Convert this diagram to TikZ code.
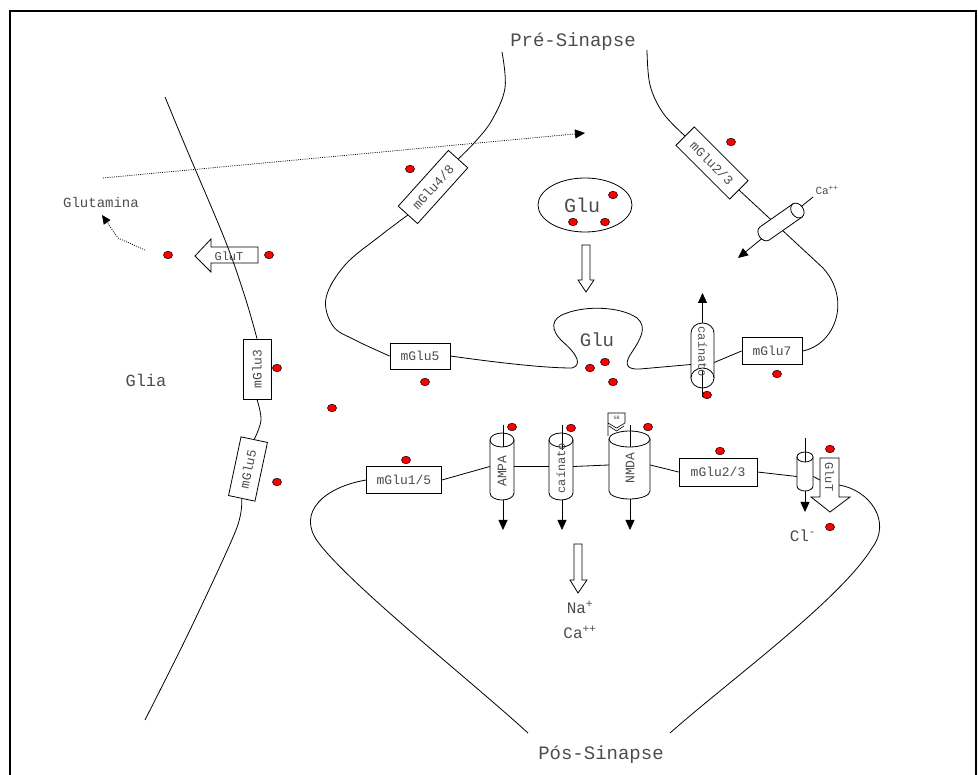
\documentclass[tikz,border=0pt]{standalone}
\usepackage{fontspec}
\newfontfamily\labfont{Liberation Mono}
\usetikzlibrary{arrows.meta,shapes.geometric,backgrounds}

\newcommand\fs[1]{\labfont\fontsize{#1}{#1}\selectfont}

\tikzset{
  membrane/.style={line width=0.8pt},
  rbox/.style={draw, line width=0.8pt, fill=white, inner sep=0pt, minimum height=26pt,
               text=black!70, font=\fs{13}},
  lab/.style={text=black!70, inner sep=0pt},
  tip/.style={line width=0.8pt, -{Triangle[length=10pt,width=9pt]}},
  dotline/.style={line width=0.7pt, dash pattern=on 1pt off 1.2pt},
  glu/.style={draw=black, fill=red, line width=0.5pt},
  openarrow/.style={draw, line width=0.8pt, fill=white},
  frame/.style={inner sep=0pt},
}

% vertical channel with its rim on top: name, cx, rim y, lower side end, half width, rim radius
\newcommand\chanup[6]{%
  \node[frame, minimum width={2*#5}, minimum height={#4-#3}] (#1) at (#2,{(#3+#4)/2}) {};
  \draw[fill=white, line width=0.8pt] (#2-#5,#3) -- (#2-#5,#4)
     arc[start angle=180, end angle=0, x radius=#5, y radius=#6] -- (#2+#5,#3) -- cycle;
  \draw[fill=white, line width=0.8pt] (#2,#3) ellipse [x radius=#5, y radius=#6];
}
% vertical channel with its rim at the bottom: name, cx, upper side end, rim y, half width, rim radius
\newcommand\chandown[6]{%
  \node[frame, minimum width={2*#5}, minimum height={#4-#3}] (#1) at (#2,{(#3+#4)/2}) {};
  \draw[fill=white, line width=0.8pt] (#2-#5,#4) -- (#2-#5,#3)
     arc[start angle=180, end angle=360, x radius=#5, y radius=#6] -- (#2+#5,#4) -- cycle;
  \draw[fill=white, line width=0.8pt] (#2,#4) ellipse [x radius=#5, y radius=#6];
}

\begin{document}
\begin{tikzpicture}[x=1pt,y=-1pt]
\useasboundingbox (0,0) rectangle (978,775);

% outer frame
\draw[line width=2pt] (10,780) -- (10,11) -- (976,11) -- (976,780);

% ---------- titles and labels ----------
\node[lab, font=\fs{19}] (pre) at (573,42) {Pré-Sinapse};
\node[lab, font=\fs{19}] (pos) at (601,755) {Pós-Sinapse};
\node[lab, font=\fs{14}] (glut) at (101,202) {Glutamina};
\node[lab, font=\fs{17}] (glia) at (146,380) {Glia};

% ---------- receptor boxes ----------
\node[rbox, minimum width=75pt, rotate=48]  (m48)  at (433,187) {mGlu4/8};
\node[rbox, minimum width=76pt, rotate=-45] (m23a) at (712,163) {mGlu2/3};
\node[rbox, minimum width=60pt]             (m5a)  at (420,356) {mGlu5};
\node[rbox, minimum width=60pt, minimum height=27pt] (m7) at (772,351) {mGlu7};
\node[rbox, minimum width=75pt, minimum height=27pt] (m15) at (404,480) {mGlu1/5};
\node[rbox, minimum width=78pt, minimum height=28pt] (m23b) at (718,472) {mGlu2/3};
\node[rbox, minimum width=60pt, minimum height=28pt, rotate=90] (m3g) at (257,369) {mGlu3};
\node[rbox, minimum width=60pt, minimum height=27pt, rotate=78] (m5g) at (248,469) {mGlu5};

% ---------- vesicle ----------
\node[draw, ellipse, line width=0.8pt, minimum width=94pt, minimum height=54pt] (ves) at (585,205) {};
\node[lab, font=\fs{20}] (vglu) at (582,205) {Glu};
\draw[openarrow] (582,245) -- (590,245) -- (590,280) -- (594,280) -- (586,292)
                 -- (578,280) -- (582,280) -- cycle;

% ---------- presynaptic kainate channel ----------
\draw[tip] (702.5,323) -- (702.5,293);
\chandown{cnA}{702.5}{333}{378}{11.5}{10}
\draw[line width=0.8pt] (702.5,370) -- (702.5,397);
\node[lab, rotate=-90, font=\fs{12}] (cnAt) at (702.5,352) {caínato};

% ---------- presynaptic calcium channel ----------
\coordinate (caIn) at (813,197);
\coordinate (caOut) at (738,258);
\draw[tip] (caIn) -- (caOut);
\node[frame, rotate=35, minimum width=52pt, minimum height=16pt] (cach) at (781,222) {};
\begin{scope}[shift={(781,222)}, rotate=35]
  \draw[fill=white, line width=0.8pt] (20,-8) -- (-20,-8)
     arc[start angle=270, end angle=90, x radius=6, y radius=8] -- (20,8) -- cycle;
  \draw[fill=white, line width=0.8pt] (20,0) ellipse [x radius=6, y radius=8];
\end{scope}
\node[lab, font=\fs{11}] (calab) at (827,190) {Ca\textsuperscript{++}};

% ---------- postsynaptic channels ----------
\draw[tip] (503,425) -- (503,530);
\draw[tip] (562,425) -- (562,530);
\draw[tip] (630,425) -- (630,530);
\draw[tip] (805,438) -- (805,512);
\chanup{ampa}{502}{440}{493}{12}{7}
\chanup{cnB}{561}{440}{493}{12}{7}
\chanup{nmda}{629.5}{439}{491}{20.5}{8}
\chanup{clc}{805}{457}{486}{8}{5}
\draw[line width=0.8pt] (503,425) -- (503,447);
\draw[line width=0.8pt] (562,425) -- (562,450);
\draw[line width=0.8pt] (630,425) -- (630,447);
\draw[line width=0.8pt] (805,438) -- (805,462);
\node[lab, rotate=90, font=\fs{13}] (ampat) at (502,471) {AMPA};
\node[lab, rotate=90, font=\fs{12}] (cnBt) at (561,468) {caínato};
\node[lab, rotate=90, font=\fs{13}] (nmdat) at (630,468) {NMDA};

% glycine site on the NMDA receptor
\draw[line width=0.6pt, fill=white] (608,436) -- (608,413) -- (625,413) -- (625,423)
      -- (616.5,428) -- (608,423);
\draw[line width=0.6pt] (609,426) -- (616.5,431) -- (624,426);
\node[lab, font=\fs{5}] (gb) at (616.5,418) {GB};

% postsynaptic glutamate transporter
\draw[openarrow] (820,458) -- (839,458) -- (839,497) -- (850,497) -- (830,512)
                 -- (811,497) -- (820,497) -- cycle;
\node[lab, rotate=-90, font=\fs{12}] (gtp) at (829.5,477) {GluT};
\coordinate (gtpL) at (820,480);
\coordinate (gtpR) at (839,485);

\draw[openarrow] (574,544) -- (582,544) -- (582,580) -- (587,580) -- (578,593)
                 -- (570,580) -- (574,580) -- cycle;
\node[lab, font=\fs{16}] (na) at (580,607) {Na\textsuperscript{+}};
\node[lab, font=\fs{16}] (ca2) at (580,632) {Ca\textsuperscript{++}};
\node[lab, font=\fs{16}] (cl) at (803,536) {Cl\textsuperscript{-}};

\node[lab, font=\fs{19}] (pglu) at (597,340) {Glu};

% ---------- dotted paths ----------
\coordinate (dotS) at (103,178);
\coordinate (dotE) at (585,133);
\draw[dotline, -{Triangle[length=10pt,width=9pt]}] (dotS) -- (dotE);
\coordinate (recS) at (145,250);
\coordinate (recM) at (118,238);
\coordinate (recE) at (102,215);
\draw[dotline, -{Triangle[length=9pt,width=8pt]}] (recS) -- (recM) -- (recE);

% ---------- membranes ----------
\begin{pgfonlayer}{background}
  % glial transporter, drawn under the glial membrane
  \draw[openarrow] (258,247) -- (211,247) -- (211,239) -- (195,256) -- (211,272)
                   -- (211,263) -- (258,263) -- cycle;
  % presynaptic terminal
  \draw[membrane] plot[smooth, tension=0.6] coordinates
     {(502,52) (505,88) (492,120) (475,142) (m48.east)};
  \draw[membrane] plot[smooth, tension=0.6] coordinates
     {(m48.west) (380,236) (345,265) (326,298) (333,326) (355,340) (m5a.west)};
  \draw[membrane] (m5a.east) .. controls (500,363) and (545,368) .. (572,368)
     .. controls (582,365) and (578,355) .. (563,342)
     .. controls (550,330) and (550,318) .. (567,313)
     .. controls (585,306) and (620,306) .. (637,318)
     .. controls (648,327) and (640,340) .. (632,352)
     .. controls (625,362) and (624,370) .. (640,369) -- ([yshift=-9pt]cnA.west);
  \draw[membrane] ([yshift=-7pt]cnA.east) -- (m7.west);
  \draw[membrane] (m7.east) .. controls (835,345) and (852,300) .. (823,268) -- (m23a.east);
  \draw[membrane] plot[smooth, tension=0.6] coordinates
     {(m23a.west) (663,113) (650,85) (647,50)};
  % glia
  \draw[membrane] plot[smooth, tension=0.6] coordinates
     {(165,97) (187,150) (225,240) (245,297) (m3g.east)};
  \draw[membrane] plot[smooth, tension=0.6] coordinates
     {(m3g.west) (261,420) (m5g.east)};
  \draw[membrane] plot[smooth, tension=0.5] coordinates
     {(m5g.west) (236,530) (190,630) (145,720)};
  % postsynaptic terminal
  \draw[membrane] (m15.west) .. controls (325,487) and (296,512) .. (318,542)
     .. controls (350,585) and (470,680) .. (528,733);
  \draw[membrane] (m15.east) -- (ampa.west);
  \draw[membrane] (ampa.east) -- (cnB.west);
  \draw[membrane] (cnB.east) -- (nmda.west);
  \draw[membrane] (nmda.east) -- (m23b.west);
  \draw[membrane] (m23b.east) -- ([yshift=-5pt]clc.west);
  \draw[membrane] ([yshift=-5pt]clc.east) -- (gtpL);
  \draw[membrane] (gtpR) .. controls (870,490) and (892,522) .. (872,548)
     .. controls (840,600) and (730,680) .. (670,733);
\end{pgfonlayer}

% ---------- glutamate ----------
\foreach \p in {(410,169),(731,142),(613,195),(573,222),(605,222),(590,368),(605,362),
  (613,382),(425,382),(777,374),(707,395),(168,255),(269,255),(277,368),(332,408),
  (277,482),(406,460),(512,427),(571,428),(648,427),(720,451),(830,449),(830,527)}
  \draw[glu] \p ellipse [x radius=4.5, y radius=3.8];

\node[lab, font=\fs{12}] (gtg) at (229,256) {GluT};
\end{tikzpicture}
\end{document}
